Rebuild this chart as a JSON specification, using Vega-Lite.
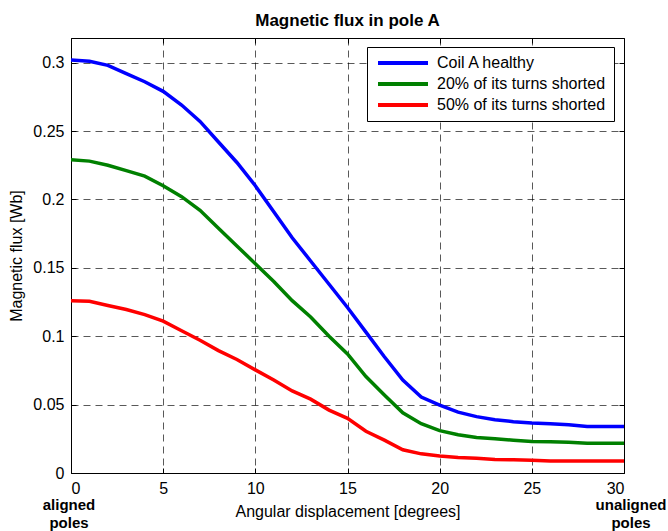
{
  "$schema": "https://vega.github.io/schema/vega-lite/v6.json",
  "autosize": {"type": "none"},
  "width": 553,
  "height": 435,
  "padding": {"left": 71, "top": 38, "right": 44, "bottom": 58},
  "background": "white",
  "config": {
    "font": "Liberation Sans",
    "view": {"stroke": "#000", "strokeWidth": 1}
  },
  "title": {
    "text": "Magnetic flux in pole A",
    "font": "Liberation Sans",
    "fontSize": 17,
    "fontWeight": "bold",
    "color": "#000",
    "anchor": "middle",
    "offset": 8
  },
  "datasets": {
    "flux": [
      {"deg": 0, "flux": 0.302, "series": "Coil A healthy"},
      {"deg": 1, "flux": 0.301, "series": "Coil A healthy"},
      {"deg": 2, "flux": 0.298, "series": "Coil A healthy"},
      {"deg": 3, "flux": 0.292, "series": "Coil A healthy"},
      {"deg": 4, "flux": 0.286, "series": "Coil A healthy"},
      {"deg": 5, "flux": 0.279, "series": "Coil A healthy"},
      {"deg": 6, "flux": 0.269, "series": "Coil A healthy"},
      {"deg": 7, "flux": 0.257, "series": "Coil A healthy"},
      {"deg": 8, "flux": 0.242, "series": "Coil A healthy"},
      {"deg": 9, "flux": 0.227, "series": "Coil A healthy"},
      {"deg": 10, "flux": 0.21, "series": "Coil A healthy"},
      {"deg": 11, "flux": 0.191, "series": "Coil A healthy"},
      {"deg": 12, "flux": 0.172, "series": "Coil A healthy"},
      {"deg": 13, "flux": 0.155, "series": "Coil A healthy"},
      {"deg": 14, "flux": 0.138, "series": "Coil A healthy"},
      {"deg": 15, "flux": 0.121, "series": "Coil A healthy"},
      {"deg": 16, "flux": 0.103, "series": "Coil A healthy"},
      {"deg": 17, "flux": 0.085, "series": "Coil A healthy"},
      {"deg": 18, "flux": 0.068, "series": "Coil A healthy"},
      {"deg": 19, "flux": 0.0555, "series": "Coil A healthy"},
      {"deg": 20, "flux": 0.0497, "series": "Coil A healthy"},
      {"deg": 21, "flux": 0.0445, "series": "Coil A healthy"},
      {"deg": 22, "flux": 0.0412, "series": "Coil A healthy"},
      {"deg": 23, "flux": 0.039, "series": "Coil A healthy"},
      {"deg": 24, "flux": 0.0375, "series": "Coil A healthy"},
      {"deg": 25, "flux": 0.0365, "series": "Coil A healthy"},
      {"deg": 26, "flux": 0.036, "series": "Coil A healthy"},
      {"deg": 27, "flux": 0.0353, "series": "Coil A healthy"},
      {"deg": 28, "flux": 0.034, "series": "Coil A healthy"},
      {"deg": 29, "flux": 0.034, "series": "Coil A healthy"},
      {"deg": 30, "flux": 0.034, "series": "Coil A healthy"},
      {"deg": 0, "flux": 0.229, "series": "20% of its turns shorted"},
      {"deg": 1, "flux": 0.228, "series": "20% of its turns shorted"},
      {"deg": 2, "flux": 0.225, "series": "20% of its turns shorted"},
      {"deg": 3, "flux": 0.221, "series": "20% of its turns shorted"},
      {"deg": 4, "flux": 0.217, "series": "20% of its turns shorted"},
      {"deg": 5, "flux": 0.21, "series": "20% of its turns shorted"},
      {"deg": 6, "flux": 0.202, "series": "20% of its turns shorted"},
      {"deg": 7, "flux": 0.192, "series": "20% of its turns shorted"},
      {"deg": 8, "flux": 0.179, "series": "20% of its turns shorted"},
      {"deg": 9, "flux": 0.166, "series": "20% of its turns shorted"},
      {"deg": 10, "flux": 0.153, "series": "20% of its turns shorted"},
      {"deg": 11, "flux": 0.14, "series": "20% of its turns shorted"},
      {"deg": 12, "flux": 0.126, "series": "20% of its turns shorted"},
      {"deg": 13, "flux": 0.114, "series": "20% of its turns shorted"},
      {"deg": 14, "flux": 0.1, "series": "20% of its turns shorted"},
      {"deg": 15, "flux": 0.087, "series": "20% of its turns shorted"},
      {"deg": 16, "flux": 0.0705, "series": "20% of its turns shorted"},
      {"deg": 17, "flux": 0.057, "series": "20% of its turns shorted"},
      {"deg": 18, "flux": 0.044, "series": "20% of its turns shorted"},
      {"deg": 19, "flux": 0.036, "series": "20% of its turns shorted"},
      {"deg": 20, "flux": 0.031, "series": "20% of its turns shorted"},
      {"deg": 21, "flux": 0.028, "series": "20% of its turns shorted"},
      {"deg": 22, "flux": 0.026, "series": "20% of its turns shorted"},
      {"deg": 23, "flux": 0.025, "series": "20% of its turns shorted"},
      {"deg": 24, "flux": 0.024, "series": "20% of its turns shorted"},
      {"deg": 25, "flux": 0.023, "series": "20% of its turns shorted"},
      {"deg": 26, "flux": 0.0228, "series": "20% of its turns shorted"},
      {"deg": 27, "flux": 0.0225, "series": "20% of its turns shorted"},
      {"deg": 28, "flux": 0.0217, "series": "20% of its turns shorted"},
      {"deg": 29, "flux": 0.0217, "series": "20% of its turns shorted"},
      {"deg": 30, "flux": 0.0217, "series": "20% of its turns shorted"},
      {"deg": 0, "flux": 0.126, "series": "50% of its turns shorted"},
      {"deg": 1, "flux": 0.1255, "series": "50% of its turns shorted"},
      {"deg": 2, "flux": 0.1225, "series": "50% of its turns shorted"},
      {"deg": 3, "flux": 0.1195, "series": "50% of its turns shorted"},
      {"deg": 4, "flux": 0.1158, "series": "50% of its turns shorted"},
      {"deg": 5, "flux": 0.111, "series": "50% of its turns shorted"},
      {"deg": 6, "flux": 0.104, "series": "50% of its turns shorted"},
      {"deg": 7, "flux": 0.097, "series": "50% of its turns shorted"},
      {"deg": 8, "flux": 0.0895, "series": "50% of its turns shorted"},
      {"deg": 9, "flux": 0.083, "series": "50% of its turns shorted"},
      {"deg": 10, "flux": 0.0754, "series": "50% of its turns shorted"},
      {"deg": 11, "flux": 0.068, "series": "50% of its turns shorted"},
      {"deg": 12, "flux": 0.06, "series": "50% of its turns shorted"},
      {"deg": 13, "flux": 0.054, "series": "50% of its turns shorted"},
      {"deg": 14, "flux": 0.046, "series": "50% of its turns shorted"},
      {"deg": 15, "flux": 0.04, "series": "50% of its turns shorted"},
      {"deg": 16, "flux": 0.0305, "series": "50% of its turns shorted"},
      {"deg": 17, "flux": 0.024, "series": "50% of its turns shorted"},
      {"deg": 18, "flux": 0.017, "series": "50% of its turns shorted"},
      {"deg": 19, "flux": 0.014, "series": "50% of its turns shorted"},
      {"deg": 20, "flux": 0.0124, "series": "50% of its turns shorted"},
      {"deg": 21, "flux": 0.0114, "series": "50% of its turns shorted"},
      {"deg": 22, "flux": 0.0107, "series": "50% of its turns shorted"},
      {"deg": 23, "flux": 0.0099, "series": "50% of its turns shorted"},
      {"deg": 24, "flux": 0.0096, "series": "50% of its turns shorted"},
      {"deg": 25, "flux": 0.0094, "series": "50% of its turns shorted"},
      {"deg": 26, "flux": 0.0088, "series": "50% of its turns shorted"},
      {"deg": 27, "flux": 0.0088, "series": "50% of its turns shorted"},
      {"deg": 28, "flux": 0.0088, "series": "50% of its turns shorted"},
      {"deg": 29, "flux": 0.0088, "series": "50% of its turns shorted"},
      {"deg": 30, "flux": 0.0088, "series": "50% of its turns shorted"}
    ],
    "notes": [
      {"deg": 0, "label": "aligned\npoles"},
      {"deg": 30, "label": "unaligned\npoles"}
    ]
  },
  "resolve": {"axis": {"x": "independent", "y": "independent"}},
  "layer": [
    {
      "data": {"name": "flux"},
      "mark": {"type": "line", "strokeWidth": 3.5, "clip": true},
      "encoding": {
        "x": {
          "field": "deg",
          "type": "quantitative",
          "scale": {"domain": [0, 30], "nice": false, "zero": false},
          "axis": {
            "title": "Angular displacement [degrees]",
            "values": [0, 5, 10, 15, 20, 25, 30],
            "format": "~g",
            "grid": true,
            "gridColor": "#000",
            "gridOpacity": 0.65,
            "gridDash": [7, 5],
            "gridWidth": 1,
            "domain": false,
            "tickColor": "#000",
            "tickSize": -5,
            "labelPadding": 12,
            "labelFontSize": 16,
            "labelColor": "#000",
            "titleFontSize": 16,
            "titleFontWeight": "normal",
            "titleColor": "#000",
            "titlePadding": 7
          }
        },
        "y": {
          "field": "flux",
          "type": "quantitative",
          "scale": {"domain": [0, 0.318], "nice": false, "zero": false},
          "axis": {
            "title": "Magnetic flux [Wb]",
            "values": [0, 0.05, 0.1, 0.15, 0.2, 0.25, 0.3],
            "format": "~g",
            "grid": true,
            "gridColor": "#000",
            "gridOpacity": 0.65,
            "gridDash": [7, 5],
            "gridWidth": 1,
            "domain": false,
            "tickColor": "#000",
            "tickSize": -5,
            "labelPadding": 12,
            "labelFontSize": 16,
            "labelColor": "#000",
            "titleFontSize": 16,
            "titleFontWeight": "normal",
            "titleColor": "#000",
            "titlePadding": 8
          }
        },
        "color": {
          "field": "series",
          "type": "nominal",
          "sort": ["Coil A healthy", "20% of its turns shorted", "50% of its turns shorted"],
          "scale": {
            "domain": ["Coil A healthy", "20% of its turns shorted", "50% of its turns shorted"],
            "range": ["#0000FF", "#008000", "#FF0000"]
          },
          "legend": {
            "title": null,
            "orient": "none",
            "legendX": 296,
            "legendY": 9,
            "padding": 8,
            "strokeColor": "#000",
            "fillColor": "#fff",
            "cornerRadius": 0,
            "symbolType": "M-1,0H9",
            "symbolSize": 100,
            "symbolStrokeWidth": 4,
            "labelFontSize": 16,
            "labelColor": "#000",
            "labelOffset": 46,
            "labelLimit": 300,
            "rowPadding": 5
          }
        }
      }
    },
    {
      "data": {"name": "flux"},
      "mark": {"type": "line", "opacity": 0},
      "encoding": {
        "x": {
          "field": "deg",
          "type": "quantitative",
          "axis": {
            "orient": "top",
            "values": [0, 5, 10, 15, 20, 25, 30],
            "labels": false,
            "title": null,
            "grid": false,
            "domain": false,
            "tickColor": "#000",
            "tickSize": -5
          }
        },
        "y": {
          "field": "flux",
          "type": "quantitative",
          "axis": {
            "orient": "right",
            "values": [0, 0.05, 0.1, 0.15, 0.2, 0.25, 0.3],
            "labels": false,
            "title": null,
            "grid": false,
            "domain": false,
            "tickColor": "#000",
            "tickSize": -5
          }
        }
      }
    },
    {
      "data": {"name": "notes"},
      "transform": [{"filter": "datum.deg == 0"}],
      "mark": {
        "type": "text",
        "clip": false,
        "fontWeight": "bold",
        "fontSize": 15,
        "color": "#000",
        "lineBreak": "\n",
        "lineHeight": 18,
        "baseline": "middle",
        "align": "center",
        "dx": -2
      },
      "encoding": {
        "x": {"field": "deg", "type": "quantitative", "axis": null},
        "y": {"datum": -0.0234, "type": "quantitative", "axis": null},
        "text": {"field": "label", "type": "nominal"}
      }
    },
    {
      "data": {"name": "notes"},
      "transform": [{"filter": "datum.deg == 30"}],
      "mark": {
        "type": "text",
        "clip": false,
        "fontWeight": "bold",
        "fontSize": 15,
        "color": "#000",
        "lineBreak": "\n",
        "lineHeight": 18,
        "baseline": "middle",
        "align": "center",
        "dx": 7
      },
      "encoding": {
        "x": {"field": "deg", "type": "quantitative", "axis": null},
        "y": {"datum": -0.0234, "type": "quantitative", "axis": null},
        "text": {"field": "label", "type": "nominal"}
      }
    }
  ]
}
